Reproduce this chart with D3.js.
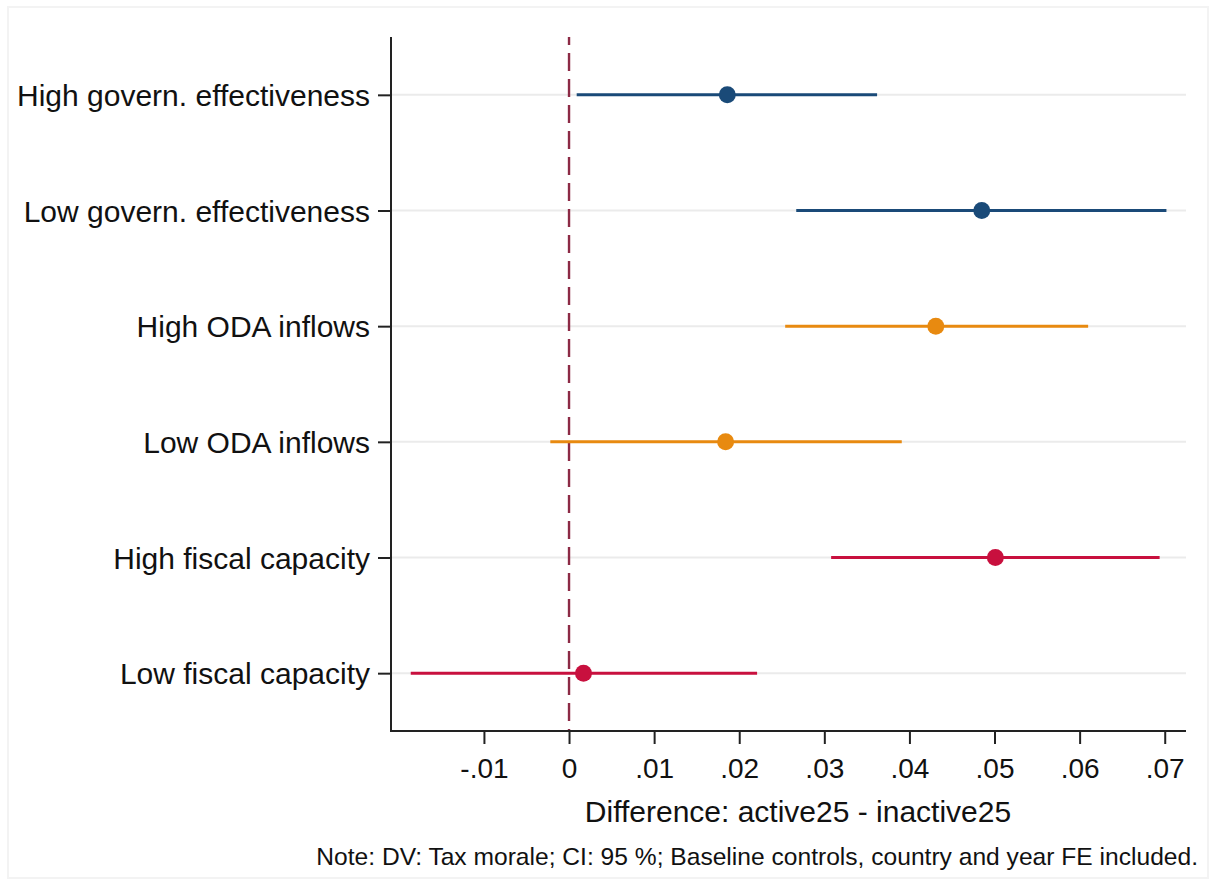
<!DOCTYPE html>
<html>
<head>
<meta charset="utf-8">
<script src="https://cdn.jsdelivr.net/npm/d3@7"></script>
<style>
  html, body { margin: 0; padding: 0; background: #fff; }
  svg { display: block; }
  text { font-family: "Liberation Sans", Arial, sans-serif; fill: #111; }
</style>
</head>
<body>
<svg id="chart" width="1214" height="881"></svg>
<script>
// Subgroup estimates of the active25 - inactive25 difference, with 95% CIs
const groups = [
  "High govern. effectiveness",
  "Low govern. effectiveness",
  "High ODA inflows",
  "Low ODA inflows",
  "High fiscal capacity",
  "Low fiscal capacity"
];
const estimates = [0.0186, 0.0485, 0.0431, 0.0184, 0.0501, 0.0017];
const ciLower   = [0.0009, 0.0267, 0.0254, -0.0022, 0.0308, -0.0186];
const ciUpper   = [0.0362, 0.0702, 0.0610, 0.0391, 0.0694, 0.0221];
const colorGroup = ["gov", "gov", "oda", "oda", "fiscal", "fiscal"];
const xTicks = [-0.01, 0, 0.01, 0.02, 0.03, 0.04, 0.05, 0.06, 0.07];
const xTitle = "Difference: active25 - inactive25";
const note = "Note: DV: Tax morale; CI: 95 %; Baseline controls, country and year FE included.";

const palette = { gov: "#1a4a78", oda: "#e88a10", fiscal: "#c8103e" };

const svg = d3.select("#chart");
const plot = { left: 391, right: 1186, top: 37, bottom: 731 };

const x = d3.scaleLinear().domain([-0.02092, 0.0725]).range([plot.left, plot.right]);
const y = d3.scalePoint().domain(groups).range([plot.top, plot.bottom]).padding(0.5);

// faint outer frame
svg.append("rect")
  .attr("x", 8).attr("y", 7).attr("width", 1200).attr("height", 871)
  .attr("fill", "none").attr("stroke", "#f3f3f3").attr("stroke-width", 2);

// horizontal grid lines
svg.append("g").selectAll("line").data(groups).join("line")
  .attr("x1", plot.left).attr("x2", plot.right)
  .attr("y1", d => y(d)).attr("y2", d => y(d))
  .attr("stroke", "#ebebeb").attr("stroke-width", 2);

// reference line at zero
svg.append("line")
  .attr("x1", x(0)).attr("x2", x(0))
  .attr("y1", plot.top).attr("y2", plot.bottom)
  .attr("stroke", "#8c2a45").attr("stroke-width", 2.4)
  .attr("stroke-dasharray", "18 8").attr("stroke-dashoffset", 10);

// confidence intervals
const rows = groups.map((g, i) => ({
  g, est: estimates[i], lo: ciLower[i], hi: ciUpper[i], c: palette[colorGroup[i]]
}));

svg.append("g").selectAll("line").data(rows).join("line")
  .attr("x1", d => x(d.lo)).attr("x2", d => x(d.hi))
  .attr("y1", d => y(d.g)).attr("y2", d => y(d.g))
  .attr("stroke", d => d.c).attr("stroke-width", 3);

// point estimates
svg.append("g").selectAll("circle").data(rows).join("circle")
  .attr("cx", d => x(d.est)).attr("cy", d => y(d.g))
  .attr("r", 8.5).attr("fill", d => d.c);

// y axis
const yAxis = svg.append("g")
  .attr("transform", `translate(${plot.left},0)`)
  .call(d3.axisLeft(y).tickSize(13).tickPadding(8));
yAxis.select(".domain").remove();
yAxis.selectAll(".tick line").attr("stroke", "#222").attr("stroke-width", 2);
yAxis.selectAll(".tick text")
  .style("font-size", "30px").attr("fill", "#111")
  .style("font-family", '"Liberation Sans", Arial, sans-serif')
  .attr("dy", "0.36em");
svg.append("line")
  .attr("x1", plot.left).attr("x2", plot.left)
  .attr("y1", plot.top).attr("y2", plot.bottom + 1)
  .attr("stroke", "#222").attr("stroke-width", 2);

// x axis: Stata-style labels with a plain hyphen and no leading zero
const fmt = v => v === 0 ? "0" : (v < 0 ? "-" : "") + d3.format(".2f")(Math.abs(v)).replace(/^0\./, ".");
const xAxis = svg.append("g")
  .attr("transform", `translate(0,${plot.bottom})`)
  .call(d3.axisBottom(x).tickValues(xTicks).tickFormat(fmt).tickSize(13).tickPadding(14));
xAxis.select(".domain").remove();
xAxis.selectAll(".tick line").attr("stroke", "#222").attr("stroke-width", 2);
xAxis.selectAll(".tick text")
  .style("font-size", "28px").attr("fill", "#111")
  .style("font-family", '"Liberation Sans", Arial, sans-serif');
svg.append("line")
  .attr("x1", plot.left - 1).attr("x2", plot.right)
  .attr("y1", plot.bottom).attr("y2", plot.bottom)
  .attr("stroke", "#222").attr("stroke-width", 2);

// axis title
svg.append("text")
  .attr("x", 798).attr("y", 822)
  .attr("text-anchor", "middle")
  .style("font-size", "30px")
  .text(xTitle);

// note
svg.append("text")
  .attr("x", 1198).attr("y", 865)
  .attr("text-anchor", "end")
  .style("font-size", "24.6px")
  .text(note);
</script>
</body>
</html>
